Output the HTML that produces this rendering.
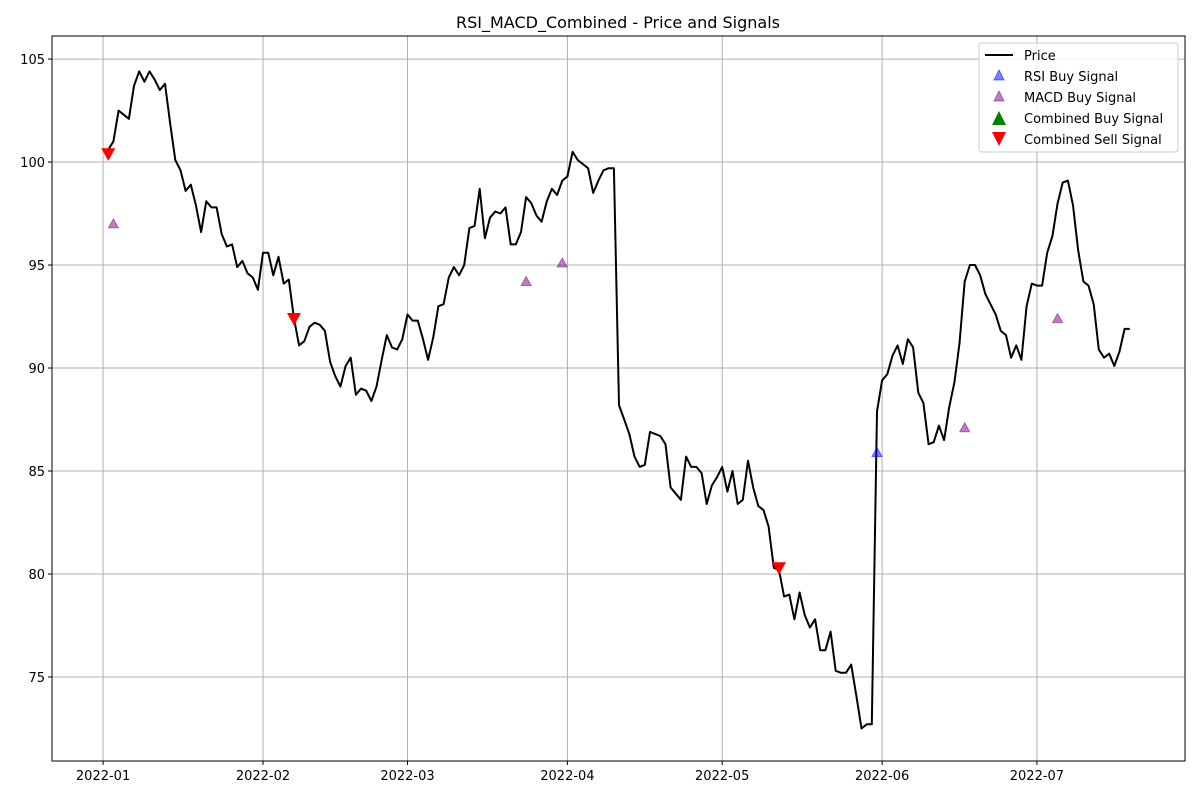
<!DOCTYPE html>
<html><head><meta charset="utf-8"><style>
html,body{margin:0;padding:0;background:#fff;}
svg{display:block;font-family:"DejaVu Sans","Liberation Sans",sans-serif;}
</style></head><body>
<svg id="chart" width="1200" height="800" viewBox="0 0 1200 800" xmlns="http://www.w3.org/2000/svg">
<rect width="1200" height="800" fill="#fff"/>
<text x="618" y="28" text-anchor="middle" font-size="16">RSI_MACD_Combined - Price and Signals</text>
<g id="grid"></g>
<g id="marks"></g>
<rect x="52" y="36" width="1133" height="725" fill="none" stroke="#000" stroke-width="1"/>
<g id="ticks"></g>
<g>
<rect x="979" y="43" width="199" height="109" rx="3" fill="#fff" fill-opacity="0.8" stroke="#ccc"/>
<g><line x1="985" y1="55" x2="1013" y2="55" stroke="#000" stroke-width="2"/><text x="1024" y="60" font-size="13">Price</text></g>
<g><polygon points="999,70 1004,80 994,80" fill="#0000ff" fill-opacity="0.5" stroke="#0000ff" stroke-opacity="0.5"/><text x="1024" y="81" font-size="13">RSI Buy Signal</text></g>
<g><polygon points="999,91 1004,101 994,101" fill="#800080" fill-opacity="0.5" stroke="#800080" stroke-opacity="0.5"/><text x="1024" y="102" font-size="13">MACD Buy Signal</text></g>
<g><polygon points="999,111 1006,125 992,125" fill="#008000"/><text x="1024" y="123" font-size="13">Combined Buy Signal</text></g>
<g><polygon points="992,132 1006,132 999,146" fill="#ff0000"/><text x="1024" y="144" font-size="13">Combined Sell Signal</text></g>
</g>
</svg>
<script>
const prices=[100.6,100.6,101,102.5,102.3,102.1,103.7,104.4,103.9,104.4,104.0,103.5,103.8,101.9,100.1,99.6,98.6,98.9,97.9,96.6,98.1,97.8,97.8,96.5,95.9,96,94.9,95.2,94.6,94.4,93.8,95.6,95.6,94.5,95.4,94.1,94.3,92.4,91.1,91.3,92,92.2,92.1,91.8,90.3,89.6,89.1,90.1,90.5,88.7,89,88.9,88.4,89.1,90.4,91.6,91,90.9,91.4,92.6,92.3,92.3,91.4,90.4,91.5,93,93.1,94.4,94.9,94.5,95,96.8,96.9,98.7,96.3,97.3,97.6,97.5,97.8,96,96,96.6,98.3,98,97.4,97.1,98.1,98.7,98.4,99.1,99.3,100.5,100.1,99.9,99.7,98.5,99.1,99.6,99.7,99.7,88.2,87.5,86.8,85.7,85.2,85.3,86.9,86.8,86.7,86.3,84.2,83.9,83.6,85.7,85.2,85.2,84.9,83.4,84.3,84.7,85.2,84,85,83.4,83.6,85.5,84.2,83.3,83.1,82.3,80.3,80.2,78.9,79,77.8,79.1,78,77.4,77.8,76.3,76.3,77.2,75.3,75.2,75.2,75.6,74.1,72.5,72.7,72.7,87.9,89.4,89.7,90.6,91.1,90.2,91.4,91,88.8,88.3,86.3,86.4,87.2,86.5,88.1,89.3,91.2,94.2,95,95,94.5,93.6,93.1,92.6,91.8,91.6,90.5,91.1,90.4,93,94.1,94,94,95.6,96.4,98,99,99.1,97.9,95.7,94.2,94,93.1,90.9,90.5,90.7,90.1,90.8,91.9,91.9];
const sellDays=[1,37,131];
const sellVals=[100.4,92.4,80.3];
const macdDays=[2,82,89,167,185];
const macdVals=[97.0,94.2,95.1,87.1,92.4];
const rsiDays=[150];
const rsiVals=[85.9];
const xTickDays=[0,31,59,90,120,151,181];
const xTickLabels=["2022-01","2022-02","2022-03","2022-04","2022-05","2022-06","2022-07"];
const yTicks=[75,80,85,90,95,100,105];

const X0=52,X1=1185,Y0=36,Y1=761;
const dMin=-9.9,dMax=209.7,vMin=70.92,vMax=106.12;
const xs=d=>X0+(d-dMin)/(dMax-dMin)*(X1-X0);
const ys=v=>Y1-(v-vMin)/(vMax-vMin)*(Y1-Y0);
const NS="http://www.w3.org/2000/svg";
const grid=document.getElementById('grid'),marks=document.getElementById('marks'),ticks=document.getElementById('ticks');
function mk(tag,attrs,parent){const e=document.createElementNS(NS,tag);for(const k in attrs)e.setAttribute(k,attrs[k]);parent.appendChild(e);return e;}
xTickDays.forEach((d,i)=>{const x=xs(d);
 const g=mk('line',{x1:x,x2:x,y1:Y0,y2:Y1,stroke:'#b0b0b0','stroke-width':1},grid);
 
 
 mk('line',{x1:x,x2:x,y1:Y1,y2:Y1+4,stroke:'#000'},ticks);
 const t=mk('text',{x:x,y:Y1+19,'text-anchor':'middle','font-size':13},ticks);t.textContent=xTickLabels[i];
 
 
});
yTicks.forEach(v=>{const y=ys(v);
 const g=mk('line',{x1:X0,x2:X1,y1:y,y2:y,stroke:'#b0b0b0','stroke-width':1},grid);
 
 
 mk('line',{x1:X0-4,x2:X0,y1:y,y2:y,stroke:'#000'},ticks);
 const t=mk('text',{x:X0-7,y:y+5,'text-anchor':'end','font-size':13},ticks);t.textContent=v;
 
 
});
const pts=prices.map((v,i)=>xs(i).toFixed(1)+','+ys(v).toFixed(1)).join(' ');
const line=mk('polyline',{points:pts,fill:'none',stroke:'#000','stroke-width':2,'stroke-linejoin':'round'},marks);


function tri(x,y,s,up){return up?`${x},${y-s} ${x+s},${y+s*0.8} ${x-s},${y+s*0.8}`:`${x-s},${y-s*0.8} ${x+s},${y-s*0.8} ${x},${y+s}`;}
rsiDays.forEach((d,i)=>{const p=mk('polygon',{points:tri(xs(d),ys(rsiVals[i]),5,true),fill:'#0000ff','fill-opacity':0.5,stroke:'#0000ff','stroke-opacity':0.5},marks);
 
 });
macdDays.forEach((d,i)=>{const p=mk('polygon',{points:tri(xs(d),ys(macdVals[i]),5,true),fill:'#800080','fill-opacity':0.5,stroke:'#800080','stroke-opacity':0.5},marks);
 
 });
sellDays.forEach((d,i)=>{const p=mk('polygon',{points:tri(xs(d),ys(sellVals[i]),7,false),fill:'#ff0000'},marks);
 
 });
</script>
</body></html>
